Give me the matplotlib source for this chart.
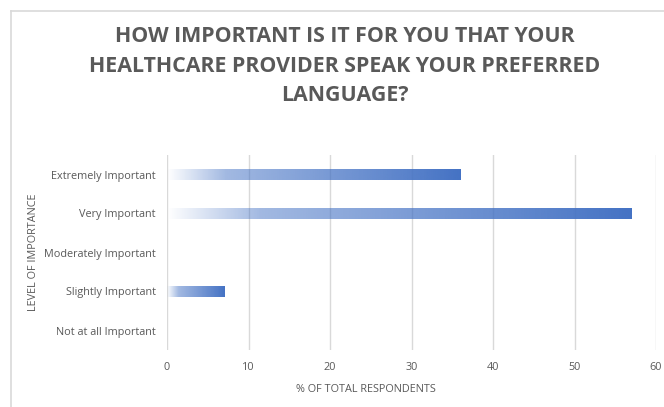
import numpy as np
import matplotlib.pyplot as plt
from matplotlib.lines import Line2D

categories = ["Extremely Important", "Very Important", "Moderately Important",
              "Slightly Important", "Not at all Important"]
percent = [36, 57, 0, 7, 0]
xticks = [0, 10, 20, 30, 40, 50, 60]

bar_color = np.array([0x44, 0x72, 0xC4]) / 255.0
text_gray = "#595959"
grid_gray = "#D9D9D9"

plt.rcParams['font.family'] = ['Open Sans', 'DejaVu Sans']

fig = plt.figure(figsize=(6.64, 4.07), dpi=100)
ax = fig.add_axes([167 / 664, 1 - 350 / 407, (656 - 167) / 664, (350 - 155) / 407])

# gradient strip: transparent at the bar's base, solid blue at its tip
t = np.linspace(0, 1, 256)
alpha = np.interp(t, [0, 0.2, 1], [0.0, 0.5, 1.0])
grad = np.zeros((1, 256, 4))
grad[0, :, :3] = bar_color
grad[0, :, 3] = alpha

bar_h = 0.28
ypos = np.arange(len(categories))
for y, v in zip(ypos, percent):
    if v <= 0:
        continue
    ax.imshow(grad, extent=[0, v, y + bar_h / 2, y - bar_h / 2],
              aspect='auto', interpolation='bilinear', zorder=3)

ax.set_xlim(0, 60)
ax.set_ylim(len(categories) - 0.5, -0.5)
ax.set_xticks(xticks)
ax.set_yticks(ypos)
ax.set_yticklabels(categories)
ax.grid(axis='x', color=grid_gray, linewidth=1.0, zorder=0)
ax.set_axisbelow(True)
for s in ax.spines.values():
    s.set_visible(False)
ax.tick_params(length=0, colors=text_gray, labelsize=7.8)
ax.tick_params(axis='x', pad=9)
ax.tick_params(axis='y', pad=8)

ax.set_xlabel("% OF TOTAL RESPONDENTS", color=text_gray, fontsize=7.8)
ax.xaxis.set_label_coords((366 - 167) / 489, -(390 - 350) / 195)
ax.xaxis.label.set_va('center')
ax.set_ylabel("LEVEL OF IMPORTANCE", color=text_gray, fontsize=7.8)
ax.yaxis.set_label_coords((33 - 167) / 489, 0.5)
ax.yaxis.label.set_va('center')

fig.text(344.5 / 664, 1 - 66 / 407,
         "HOW IMPORTANT IS IT FOR YOU THAT YOUR\nHEALTHCARE PROVIDER SPEAK YOUR PREFERRED\nLANGUAGE?",
         ha='center', va='center', fontsize=15.4, fontweight='bold',
         color=text_gray, linespacing=1.52)

# chart frame (top and left edges)
fig.add_artist(Line2D([11 / 664, 1], [1 - 11 / 407] * 2, color=grid_gray, lw=1.2,
                      transform=fig.transFigure))
fig.add_artist(Line2D([11 / 664] * 2, [0, 1 - 11 / 407], color=grid_gray, lw=1.2,
                      transform=fig.transFigure))

fig.savefig("out.png", dpi=100)
